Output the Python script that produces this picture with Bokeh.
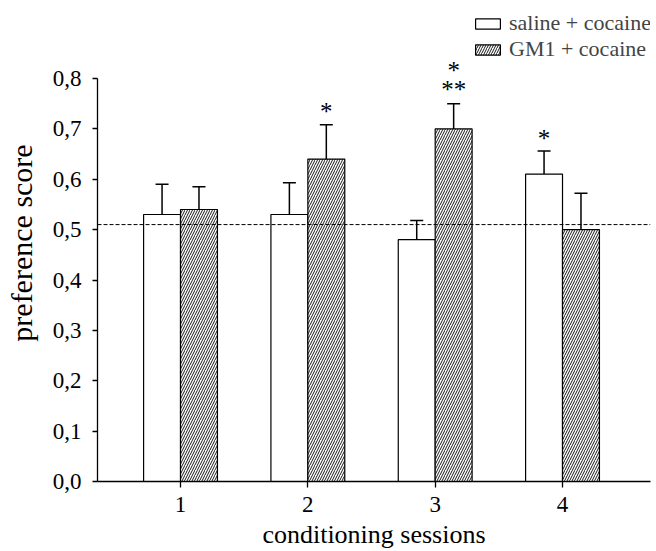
from bokeh.plotting import figure
from bokeh.models import (ColumnDataSource, Whisker, TeeHead, Span, FixedTicker,
                          Legend, LegendItem, LabelSet, Range1d)
from bokeh.embed import file_html
from bokeh.resources import INLINE

# ---- data ----
sessions = [1, 2, 3, 4]
session_labels = ["1", "2", "3", "4"]
saline = [0.53, 0.53, 0.48, 0.61]
saline_upper = [0.590, 0.593, 0.518, 0.656]
gm1 = [0.54, 0.64, 0.70, 0.50]
gm1_upper = [0.585, 0.708, 0.750, 0.572]
reference_level = 0.51
y_ticks = [0.0, 0.1, 0.2, 0.3, 0.4, 0.5, 0.6, 0.7, 0.8]
y_tick_labels = ["0,0", "0,1", "0,2", "0,3", "0,4", "0,5", "0,6", "0,7", "0,8"]
star_session = [2, 3, 3, 4]
star_group = ["gm1", "gm1", "gm1", "saline"]
star_text = ["*", "**", "*", "*"]
star_y = [0.734, 0.778, 0.816, 0.680]

FONT = "Liberation Serif"
offset = 0.145
bar_w = 0.29

# frame geometry (pixels): left 97, right 650, top 4, bottom 481; 0.8 sits at 78
TOP_BORDER = 4
Y_END = 0.8 * (481 - TOP_BORDER) / (481 - 78)

src_s = ColumnDataSource(dict(x=[s - offset for s in sessions], top=saline, upper=saline_upper))
src_g = ColumnDataSource(dict(x=[s + offset for s in sessions], top=gm1, upper=gm1_upper))
src_star = ColumnDataSource(dict(
    x=[s + (offset if g == "gm1" else -offset) for s, g in zip(star_session, star_group)],
    y=star_y, text=star_text))

p = figure(width=656, height=551, output_backend="svg", toolbar_location=None,
           x_range=Range1d(0.348, 4.691), y_range=Range1d(0, Y_END),
           min_border_left=97, min_border_right=6, min_border_top=TOP_BORDER,
           min_border_bottom=70)
p.outline_line_color = None
p.xgrid.visible = False
p.ygrid.visible = False
p.background_fill_color = "white"

r_s = p.vbar(x="x", top="top", bottom=0, width=bar_w, source=src_s,
             fill_color="white", line_color="black", line_width=1.2)
r_g = p.vbar(x="x", top="top", bottom=0, width=bar_w, source=src_g,
             fill_color="white", line_color="black", line_width=1.2,
             hatch_pattern="/", hatch_color="black", hatch_scale=5, hatch_weight=0.9)

for src in (src_s, src_g):
    w = Whisker(base="x", lower="top", upper="upper", source=src,
                line_color="black", line_width=1.5,
                upper_head=TeeHead(size=13, line_color="black", line_width=1.5),
                lower_head=None)
    p.add_layout(w)

p.add_layout(Span(location=reference_level, dimension="width", line_color="black",
                  line_width=1, line_dash="4 2"))

stars = LabelSet(x="x", y="y", text="text", source=src_star, text_font=FONT,
                 text_font_size="25px", text_align="center", text_baseline="middle",
                 text_color="black")
p.add_layout(stars)

legend = Legend(items=[LegendItem(label="saline + cocaine", renderers=[r_s]),
                       LegendItem(label="GM1 + cocaine", renderers=[r_g])],
                location=(375, 419), padding=0, spacing=-2, margin=0,
                glyph_width=31, glyph_height=13, label_standoff=6,
                label_text_font=FONT, label_text_font_size="22px",
                border_line_color=None, background_fill_alpha=0)
p.add_layout(legend)

# axes
p.xaxis.ticker = FixedTicker(ticks=sessions)
p.xaxis.major_label_overrides = {s: l for s, l in zip(sessions, session_labels)}
p.yaxis.ticker = FixedTicker(ticks=y_ticks)
p.yaxis.major_label_overrides = {t: l for t, l in zip(y_ticks, y_tick_labels)}
p.yaxis.bounds = (0, 0.8)
for ax in (p.xaxis, p.yaxis):
    ax.minor_tick_line_color = None
    ax.major_tick_in = 0
    ax.major_tick_out = 6
    ax.axis_line_width = 1.3
    ax.major_tick_line_width = 1.3
    ax.axis_line_color = "black"
    ax.major_tick_line_color = "black"
    ax.major_label_text_font = FONT
    ax.major_label_text_font_size = "23px"
    ax.major_label_text_color = "black"
    ax.axis_label_text_font = FONT
    ax.axis_label_text_font_style = "normal"
    ax.axis_label_text_color = "black"
p.xaxis.axis_label_text_font_size = "26px"
p.yaxis.axis_label_text_font_size = "30px"
p.yaxis.major_tick_out = 5
p.xaxis.major_label_standoff = 9
p.yaxis.major_label_standoff = 11
p.xaxis.axis_label = "conditioning sessions"
p.yaxis.axis_label = "preference score"
p.xaxis.axis_label_standoff = 5
p.yaxis.axis_label_standoff = 12

open("out.html", "w").write(file_html(p, INLINE))
